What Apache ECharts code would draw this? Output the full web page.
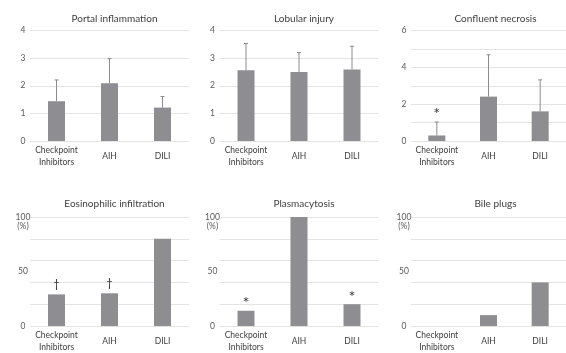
<!DOCTYPE html>
<html>
<head>
<meta charset="utf-8">
<script src="https://cdn.jsdelivr.net/npm/echarts@6/dist/echarts.min.js"></script>
<style>html,body{margin:0;padding:0;background:#fff;}#c{width:566px;height:353px;}</style>
</head>
<body>
<div id="c"></div>
<script>
var categories = ['Checkpoint\nInhibitors', 'AIH', 'DILI'];
var titles = ['Portal inflammation', 'Lobular injury', 'Confluent necrosis', 'Eosinophilic infiltration', 'Plasmacytosis', 'Bile plugs'];

var portalMean = [1.44, 2.09, 1.21];
var portalSD = [0.77, 0.89, 0.40];
var lobularMean = [2.56, 2.50, 2.59];
var lobularSD = [0.97, 0.70, 0.84];
var confluentMean = [0.30, 2.41, 1.61];
var confluentSD = [0.73, 2.27, 1.71];
var eosinophilicPct = [29, 30, 80];
var plasmacytosisPct = [14, 100, 20];
var bilePlugsPct = [0, 10, 40];

var confluentMarks = ['*', '', ''];
var eosinophilicMarks = ['\u2020', '\u2020', ''];
var plasmacytosisMarks = ['*', '', '*'];
var noMarks = ['', '', ''];

var panels = [
  {mean: portalMean, sd: portalSD, marks: noMarks, max: 4, grid: 1, lab: 1, pct: false},
  {mean: lobularMean, sd: lobularSD, marks: noMarks, max: 4, grid: 1, lab: 1, pct: false},
  {mean: confluentMean, sd: confluentSD, marks: confluentMarks, max: 6, grid: 1, lab: 2, pct: false},
  {mean: eosinophilicPct, sd: null, marks: eosinophilicMarks, max: 100, grid: 20, lab: 50, pct: true},
  {mean: plasmacytosisPct, sd: null, marks: plasmacytosisMarks, max: 100, grid: 20, lab: 50, pct: true},
  {mean: bilePlugsPct, sd: null, marks: noMarks, max: 100, grid: 20, lab: 50, pct: true}
];

var FONT = 'Lato';
var lefts = [30, 219.5, 411];
var tops = [30.5, 217];
var heights = [110.5, 110];
var W = 159;

var grids = [], xAxes = [], yAxes = [], series = [], titleArr = [];
panels.forEach(function (p, i) {
  var col = i % 3, row = Math.floor(i / 3);
  grids.push({left: lefts[col], top: tops[row], width: W, height: heights[row], containLabel: false});
  titleArr.push({
    text: titles[i], left: lefts[col] + W / 2, textAlign: 'center',
    top: row === 0 ? 9 : 194,
    textStyle: {fontFamily: FONT, fontSize: 10, fontWeight: 'normal', color: '#404040'}
  });
  xAxes.push({
    type: 'category', gridIndex: i, data: categories,
    axisLine: {show: false}, axisTick: {show: false},
    axisLabel: {fontFamily: FONT, fontSize: 8.5, color: '#404040', lineHeight: 12, verticalAlign: 'middle', margin: 15, interval: 0}
  });
  // split-line axis
  yAxes.push({
    type: 'value', gridIndex: i, position: 'left', min: 0, max: p.max, interval: p.grid,
    axisLabel: {show: false}, axisLine: {show: false}, axisTick: {show: false},
    splitLine: {show: true, lineStyle: {color: '#e3e3e3', width: 1}}
  });
  // label axis
  yAxes.push({
    type: 'value', gridIndex: i, position: 'left', offset: 0, min: 0, max: p.max, interval: p.lab,
    axisLine: {show: false}, axisTick: {show: false}, splitLine: {show: false},
    axisLabel: {
      fontFamily: FONT, fontSize: 8.5, color: '#595959', align: 'center', margin: 7, lineHeight: 9,
      formatter: function (v) {
        if (p.pct) return ' \n' + v + '\n' + (v === 100 ? '(%)' : ' ');
        return '' + v;
      }
    }
  });
  var yIdx = yAxes.length - 1;
  series.push({
    type: 'bar', xAxisIndex: i, yAxisIndex: yIdx, data: p.mean, barWidth: 17,
    itemStyle: {color: '#8e8e92'},
    silent: true, animation: false
  });
  var ed = p.mean.map(function (m, k) {
    return [k, m, p.sd ? m + p.sd[k] : m, p.marks[k]];
  });
  series.push({
    type: 'custom', xAxisIndex: i, yAxisIndex: yIdx, data: ed, animation: false, silent: true, z: 5,
    renderItem: function (params, api) {
      var x = api.coord([api.value(0), 0])[0];
      var yb = api.coord([0, api.value(1)])[1];
      var yt = api.coord([0, api.value(2)])[1];
      var mark = ed[params.dataIndex][3];
      var children = [];
      if (yt < yb - 0.5) {
        children.push({type: 'line', shape: {x1: x, y1: yb, x2: x, y2: yt}, style: {stroke: '#8c8c8c', lineWidth: 1}});
        children.push({type: 'line', shape: {x1: x - 2, y1: yt, x2: x + 2, y2: yt}, style: {stroke: '#8c8c8c', lineWidth: 1}});
      }
      if (mark) {
        var isStar = mark === '*';
        children.push({
          type: 'text',
          style: {
            text: mark, x: x, y: isStar ? yt - 3 : yt - 4,
            align: 'center', verticalAlign: 'bottom',
            font: isStar ? '11px "DejaVu Sans"' : '11px Lato', fill: '#262626'
          }
        });
      }
      return {type: 'group', children: children};
    }
  });
});

var chart = echarts.init(document.getElementById('c'), null, {renderer: 'canvas'});
chart.setOption({
  animation: false,
  backgroundColor: '#ffffff',
  title: titleArr,
  grid: grids,
  xAxis: xAxes,
  yAxis: yAxes,
  series: series
});
</script>
</body>
</html>
